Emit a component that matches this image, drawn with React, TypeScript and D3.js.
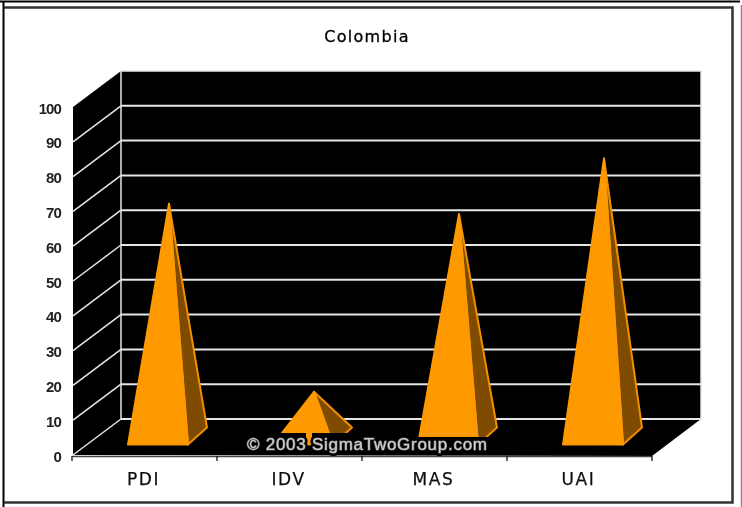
import * as d3 from "d3";

const categories = ["PDI", "IDV", "MAS", "UAI"];
const values = [67, 13, 64, 80];
const yTicks = [0, 10, 20, 30, 40, 50, 60, 70, 80, 90, 100];

const W = 742;
const H = 507;

// front plane of the fake 3d box
const x = d3.scaleBand<string>().domain(categories).range([72, 652]);
const y = d3.scaleLinear().domain([0, 100]).range([455, 107]);

// how far the back wall is shifted
const depthX = 49;
const depthY = -36;

const ORANGE = "#ff9900";
const BROWN = "#7f4c00";
const EDGE = "#f09000";
const GRID = "#e6e6e6";
const WATERMARK = "© 2003 SigmaTwoGroup.com";

export default function App() {
  const line = d3.line();
  const xLeft = x.range()[0];
  const xRight = x.range()[1];
  const yBase = y(0);
  const yTop = y(100);

  const wall = line([
    [xLeft + 1, yBase],
    [xLeft + 1, yTop],
    [xLeft + depthX, yTop + depthY],
    [xRight + depthX, yTop + depthY],
    [xRight + depthX, yBase + depthY],
    [xRight, yBase + 1],
  ]) + "Z";

  return (
    <svg
      width={W}
      height={H}
      viewBox={`0 0 ${W} ${H}`}
      style={{ position: "absolute", left: 0, top: 0, background: "#fff" }}
    >
      <defs>
        <filter id="soft" x="-5%" y="-5%" width="110%" height="110%">
          <feGaussianBlur stdDeviation="0.45" />
        </filter>
        <filter id="halo" x="-5%" y="-30%" width="110%" height="160%">
          <feGaussianBlur stdDeviation="0.7" />
        </filter>
      </defs>

      <g filter="url(#soft)">
        {/* frame */}
        <path d="M0 1.5H740" stroke="#000" strokeWidth={2} />
        <path d="M3.5 1V507" stroke="#000" strokeWidth={2} />
        <path d="M4 7.5H732.5V502.5H4" fill="none" stroke="#333" strokeWidth={2.5} />
        <path d="M741.5 5V507" stroke="#888" strokeWidth={1.5} />

        <text
          x={367}
          y={42}
          textAnchor="middle"
          fontFamily="'DejaVu Sans', sans-serif"
          fontSize={16}
          letterSpacing={1.3}
          fill="#000"
          stroke="#000"
          strokeWidth={0.3}
        >
          Colombia
        </text>

        <path d={wall} fill="#000" />

        {/* back wall edges */}
        <path
          d={`M${xLeft + depthX} ${yBase + depthY}V${yTop + depthY}H${xRight + depthX}V${yBase + depthY}`}
          fill="none"
          stroke={GRID}
          strokeWidth={1.5}
        />

        {/* grid lines, side wall then back wall */}
        {yTicks.map((t) => (
          <g key={t}>
            {t < 100 && (
              <>
                <path
                  d={`M${xLeft + 1} ${y(t)}L${xLeft + depthX} ${y(t) + depthY}`}
                  fill="none"
                  stroke={GRID}
                  strokeWidth={1.5}
                />
                <path
                  d={`M${xLeft + depthX} ${y(t) + depthY}H${xRight + depthX}`}
                  fill="none"
                  stroke={GRID}
                  strokeWidth={2}
                />
              </>
            )}
            <text
              x={61}
              y={y(t) + 6.5}
              textAnchor="end"
              fontFamily="'Liberation Sans', sans-serif"
              fontWeight="bold"
              fontSize={15}
              letterSpacing={-0.9}
              fill="#222"
            >
              {t}
            </text>
          </g>
        ))}

        {/* axis line and ticks */}
        <path d={`M${xLeft} ${yBase + 1.5}H${xRight}`} stroke="#444" strokeWidth={1.5} />
        {[...categories.map((c) => x(c) as number), xRight].map((tx) => (
          <path key={tx} d={`M${tx} ${yBase + 1}V${yBase + 6}`} stroke="#111" strokeWidth={1.3} />
        ))}

        {/* pyramids */}
        {categories.map((c, i) => {
          const x0 = x(c) as number;
          const left = x0 + 56;
          const right = left + 60;
          const front = y(3);
          const corner: [number, number] = [right + 19, front - 17];
          const apex: [number, number] = [left + 41, y(values[i]) - 18];
          return (
            <g key={c} strokeWidth={2} strokeLinejoin="round">
              <path d={line([[right, front], corner, apex]) + "Z"} fill={BROWN} stroke={EDGE} />
              <path d={line([[left, front], [right, front], apex]) + "Z"} fill={ORANGE} stroke={ORANGE} />
            </g>
          );
        })}

        {categories.map((c) => (
          <text
            key={c}
            x={(x(c) as number) + x.bandwidth() / 2 - 1}
            y={485}
            textAnchor="middle"
            fontFamily="'DejaVu Sans', sans-serif"
            fontSize={17}
            letterSpacing={1.6}
            fill="#111"
            stroke="#111"
            strokeWidth={0.25}
          >
            {c}
          </text>
        ))}

        {/* watermark, its dark backing cuts off the pyramid feet */}
        <path d="M247 454V433H306V454ZM312 454V433H350V437H490V454Z" fill="#000" />
        <g fontFamily="'Liberation Sans', sans-serif" fontSize={17}>
          <text
            x={247}
            y={450}
            textLength={240}
            fill="#000"
            stroke="#000"
            strokeWidth={6}
            strokeLinejoin="round"
            filter="url(#halo)"
          >
            {WATERMARK}
          </text>
          <text
            x={247}
            y={450}
            textLength={240}
            fill="#cfcfcf"
            stroke="#666"
            strokeWidth={1.2}
            paintOrder="stroke"
            strokeLinejoin="round"
          >
            {WATERMARK}
          </text>
        </g>
      </g>
    </svg>
  );
}
